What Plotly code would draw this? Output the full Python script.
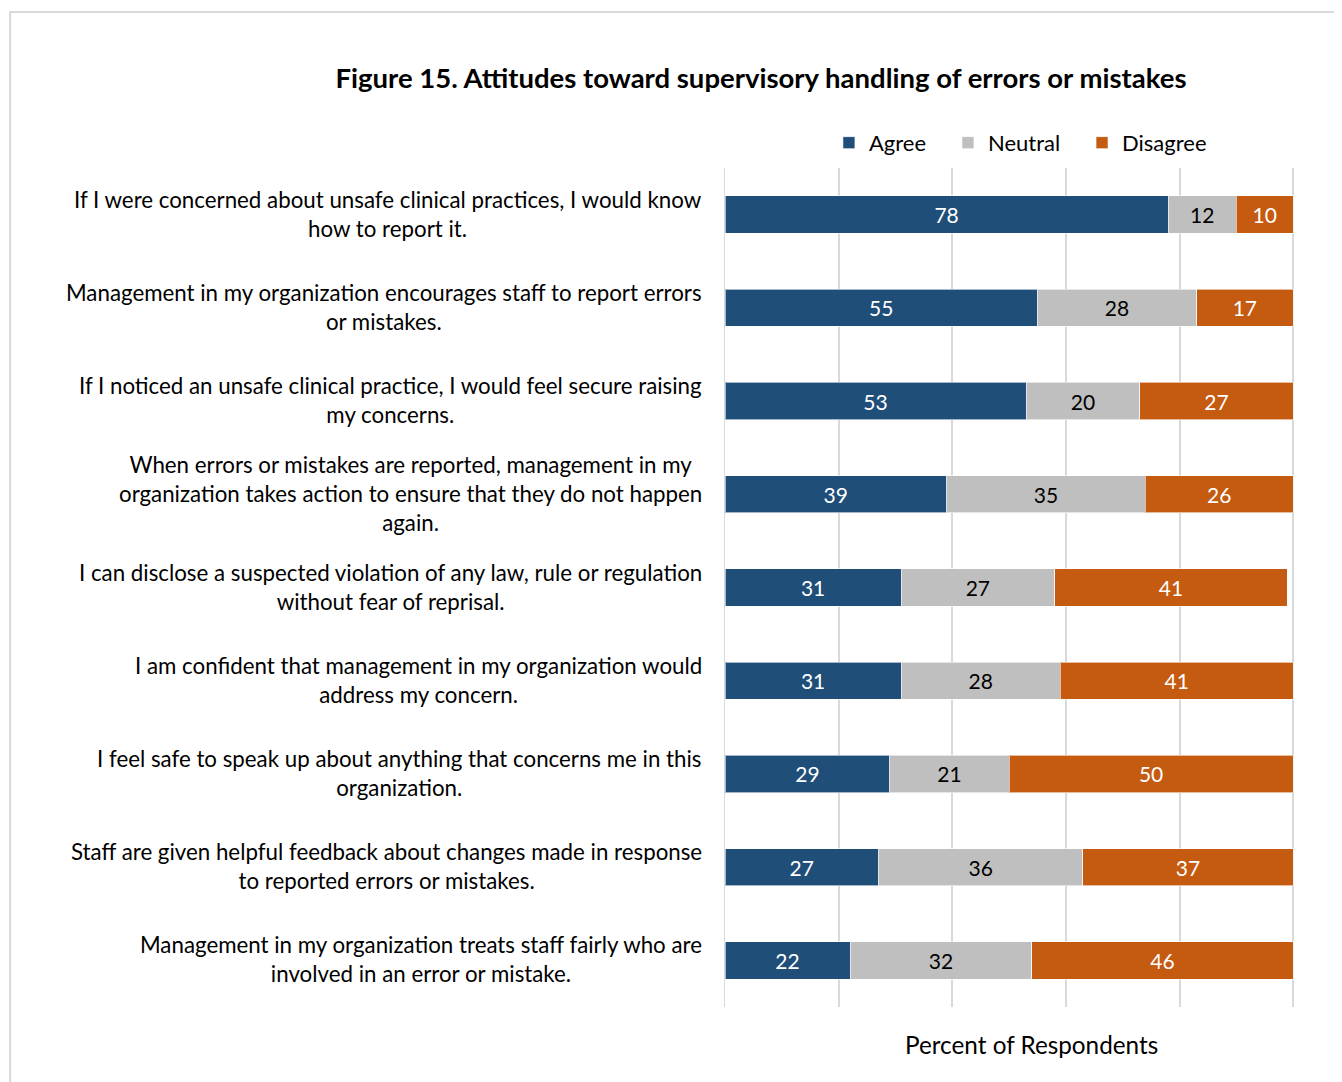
import plotly.graph_objects as go

categories = [
    "If I were concerned about unsafe clinical practices, I would know<br>how to report it.",
    "Management in my organization encourages staff to report errors<br>or mistakes.",
    "If I noticed an unsafe clinical practice, I would feel secure raising<br>my concerns.",
    "When errors or mistakes are reported, management in my<br>organization takes action to ensure that they do not happen<br>again.",
    "I can disclose a suspected violation of any law, rule or regulation<br>without fear of reprisal.",
    "I am confident that management in my organization would<br>address my concern.",
    "I feel safe to speak up about anything that concerns me in this<br>organization.",
    "Staff are given helpful feedback about changes made in response<br>to reported errors or mistakes.",
    "Management in my organization treats staff fairly who are<br>involved in an error or mistake.",
]
agree = [78, 55, 53, 39, 31, 31, 29, 27, 22]
neutral = [12, 28, 20, 35, 27, 28, 21, 36, 32]
disagree = [10, 17, 27, 26, 41, 41, 50, 37, 46]

FONT = "Lato"
NB = "\u00a0"
series = [
    ("Agree" + NB * 3, agree, "#1F4E79", "white"),
    ("Neutral" + NB * 3, neutral, "#BFBFBF", "black"),
    ("Disagree", disagree, "#C55A11", "white"),
]

fig = go.Figure()
for name, vals, color, tcolor in series:
    fig.add_trace(go.Bar(
        name=name, y=categories, x=vals, orientation="h",
        marker=dict(color=color, line=dict(color="rgba(255,255,255,0.6)", width=1)),
        text=[str(v) for v in vals], textposition="inside", insidetextanchor="middle",
        textfont=dict(family=FONT, size=21, color=tcolor),
        constraintext="none", hoverinfo="skip",
    ))

for c in categories:
    fig.add_annotation(
        xref="paper", yref="y", x=0, y=c, xanchor="right", yanchor="middle",
        xshift=-21, yshift=1, text=c, showarrow=False, align="center",
        font=dict(family=FONT, size=22.3, color="black"),
    )

fig.add_annotation(
    xref="paper", yref="paper", x=0.537, y=0, yshift=-37, yanchor="middle",
    text="Percent of Respondents", showarrow=False,
    font=dict(family=FONT, size=24.3, color="black"),
)

# outer light border
fig.add_shape(type="rect", xref="paper", yref="paper",
              x0=-1.252, x1=1.2, y0=-0.2, y1=1.186,
              line=dict(color="#D9D9D9", width=2), fillcolor="rgba(0,0,0,0)", layer="below")

W, H = 1334, 1074
fig.update_layout(
    width=W, height=H,
    margin=dict(l=717, r=46, t=160, b=75),
    paper_bgcolor="white", plot_bgcolor="white",
    barmode="stack", bargap=0.6,
    title=dict(text="<b>Figure 15. Attitudes toward supervisory handling of errors or mistakes</b>",
               x=753 / W, xanchor="center", y=1 - 70 / H, yanchor="middle",
               font=dict(family=FONT, size=27.5, color="black")),
    legend=dict(orientation="h", x=0.182, xanchor="left", y=1.03, yanchor="middle",
                font=dict(family=FONT, size=22, color="black"), traceorder="normal"),
    xaxis=dict(range=[0, 100.5], tickvals=[0, 20, 40, 60, 80, 100], showticklabels=False, showgrid=True,
               gridcolor="#D9D9D9", gridwidth=2, zeroline=False, showline=False, fixedrange=True),
    yaxis=dict(autorange="reversed", showticklabels=False, showgrid=False,
               showline=True, linecolor="#D9D9D9", linewidth=1, zeroline=False),
    font=dict(family=FONT),
)

fig.write_html("out.html")
